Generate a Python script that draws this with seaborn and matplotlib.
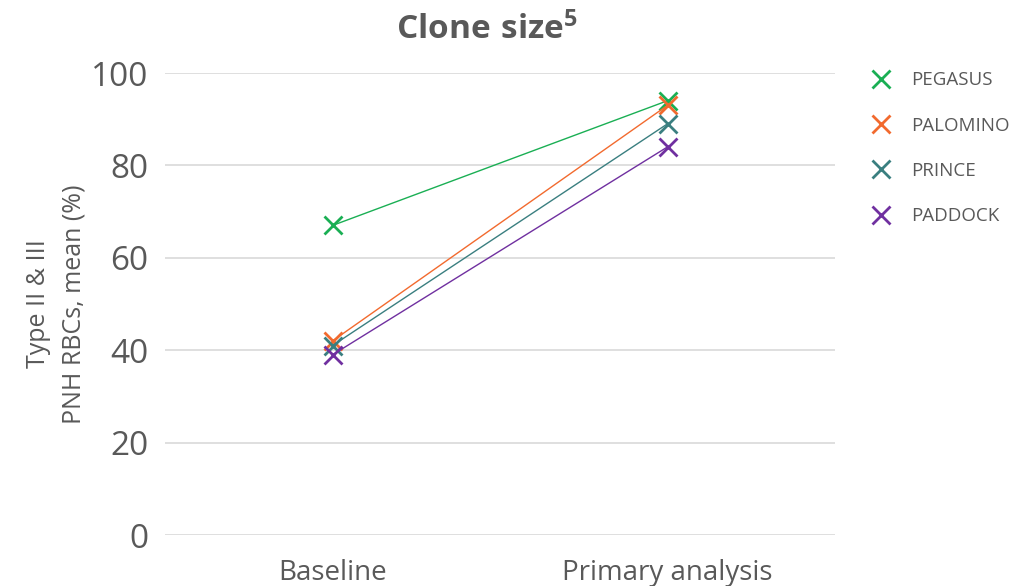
import matplotlib
matplotlib.use("Agg")
import matplotlib.pyplot as plt
from matplotlib.lines import Line2D
import seaborn as sns
import pandas as pd

timepoints = ["Baseline", "Primary analysis"]
studies = ["PEGASUS", "PALOMINO", "PRINCE", "PADDOCK"]
baseline = [67, 42, 41, 39]
primary = [94, 93, 89, 84]
colors = ["#1AAF54", "#F26A2E", "#3A7F80", "#7030A0"]
y_ticks = [0, 20, 40, 60, 80, 100]

rows = []
for s, b, p in zip(studies, baseline, primary):
    rows.append({"study": s, "pos": 0, "value": b})
    rows.append({"study": s, "pos": 1, "value": p})
df = pd.DataFrame(rows)

sns.set_theme(style="white")
plt.rcParams["font.family"] = ["Open Sans", "DejaVu Sans"]
plt.rcParams["mathtext.fontset"] = "custom"
plt.rcParams["mathtext.rm"] = "Open Sans"
plt.rcParams["mathtext.bf"] = "Open Sans:bold"
text_color = "#595959"

fig = plt.figure(figsize=(10.33, 5.86), dpi=100)
ax = fig.add_axes([165 / 1033, 1 - 535 / 586, 670 / 1033, (535 - 73) / 586])

# one call per study so the x markers keep their own colour
for s, c in zip(studies, colors):
    sns.lineplot(data=df[df["study"] == s], x="pos", y="value", color=c,
                 linewidth=1.0, marker="x", markersize=13, markeredgewidth=2,
                 markeredgecolor=c, ax=ax, zorder=3)

ax.set_xlim(-0.5, 1.5)
ax.set_ylim(0, 100)
ax.set_yticks(y_ticks)
ax.set_xticks([0, 1])
ax.set_xticklabels(timepoints, fontsize=20, color=text_color)
ax.tick_params(axis="y", labelsize=24, labelcolor=text_color, length=0, pad=12)
ax.tick_params(axis="x", length=0, pad=17)
ax.grid(axis="y", color="#D9D9D9", linewidth=1.2, zorder=0)
ax.grid(axis="x", visible=False)
for sp in ax.spines.values():
    sp.set_visible(False)
ax.set_xlabel("")
ax.set_ylabel("Type II & III\nPNH RBCs, mean (%)", fontsize=18, color=text_color,
              labelpad=3, linespacing=1.55)

fig.text(487 / 1033, 1 - 30 / 586, r"$\mathbf{Clone\ size^{5}}$", fontsize=24,
         color=text_color, ha="center", va="center")

handles = [Line2D([], [], color=c, marker="x", linestyle="none", markersize=13,
                  markeredgewidth=2) for c in colors]
leg = ax.legend(handles, studies, loc="upper left", bbox_to_anchor=(1.03, 1.02),
                frameon=False, fontsize=13.5, labelspacing=1.46, handletextpad=0.6,
                borderaxespad=0)
for t in leg.get_texts():
    t.set_color(text_color)

fig.savefig("out.png", dpi=100)
